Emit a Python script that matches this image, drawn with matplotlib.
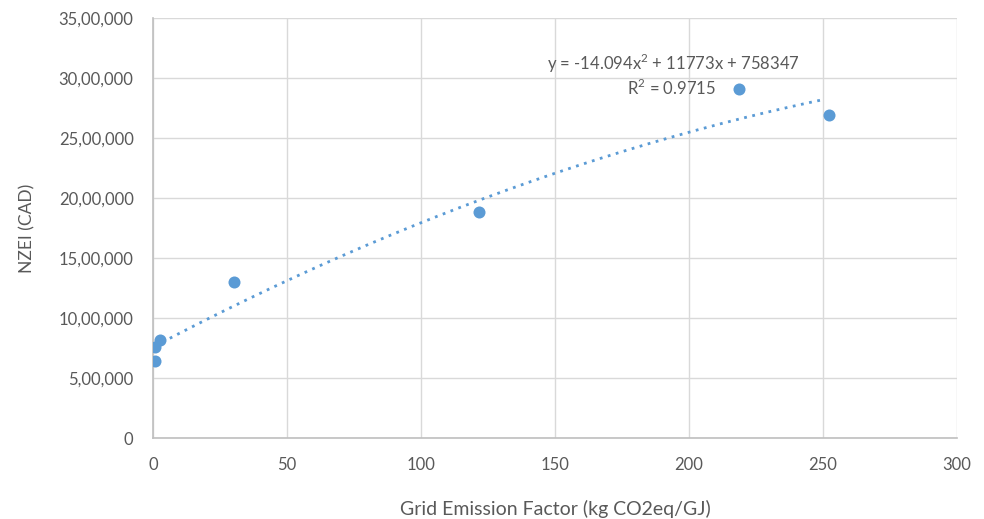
import numpy as np
import matplotlib.pyplot as plt
from matplotlib.ticker import FuncFormatter

# Grid emission factor (kg CO2eq/GJ) vs NZEI (CAD)
emission_factor = [0.75, 0.75, 2.6, 30.2, 121.6, 218.7, 252.2]
nzei = [642000, 758000, 817000, 1300000, 1883000, 2908000, 2692000]

# order-2 trendline coefficients as shown on the chart
trend_coef = [-14.094, 11773, 758347]
r_squared = 0.9715

plt.rcParams['font.family'] = ['Lato', 'DejaVu Sans']
plt.rcParams['mathtext.fontset'] = 'custom'
plt.rcParams['mathtext.rm'] = 'Lato'

grey = '#595959'
blue = '#5b9bd5'


def indian_fmt(v, pos):
    v = int(round(v))
    if v == 0:
        return '0'
    s = str(v)
    last3 = s[-3:]
    rest = s[:-3]
    parts = []
    while len(rest) > 2:
        parts.insert(0, rest[-2:])
        rest = rest[:-2]
    if rest:
        parts.insert(0, rest)
    return ','.join(parts + [last3])


fig = plt.figure(figsize=(9.84, 5.19), dpi=100)
ax = fig.add_axes([0.1555, 0.156, 0.817, 0.809])

xs = np.linspace(min(emission_factor), max(emission_factor) - 2, 200)
ax.plot(xs, np.polyval(trend_coef, xs), color=blue, linestyle=(0, (1, 2)), linewidth=2, zorder=2)

ax.scatter(emission_factor, nzei, s=75, color=blue, zorder=3, linewidths=0)

ax.set_xlim(0, 300)
ax.set_ylim(0, 3500000)
ax.set_xticks(range(0, 301, 50))
ax.set_yticks(range(0, 3500001, 500000))
ax.yaxis.set_major_formatter(FuncFormatter(indian_fmt))
ax.grid(True, color='#d9d9d9', linewidth=1)
ax.set_axisbelow(True)
for side in ['top', 'right']:
    ax.spines[side].set_visible(False)
for side in ['left', 'bottom']:
    ax.spines[side].set_color('#bfbfbf')
    ax.spines[side].set_linewidth(1.2)
ax.tick_params(length=0, colors=grey, labelsize=12)
ax.tick_params(axis='x', pad=14)
ax.tick_params(axis='y', pad=14)

ax.set_xlabel('Grid Emission Factor (kg CO2eq/GJ)', fontsize=14, color=grey, labelpad=19)
ax.set_ylabel('NZEI (CAD)', fontsize=12.5, color=grey, labelpad=17)

eq_text = "y = %.3fx$^2$ + %dx + %d" % tuple(trend_coef)
r2_text = "R$^2$ = %.4f" % r_squared
ax.text(194, 3125000, eq_text, ha='center', va='center', fontsize=12, color=grey)
ax.text(193.5, 2917000, r2_text, ha='center', va='center', fontsize=12, color=grey)

fig.savefig('out.png', dpi=100)
